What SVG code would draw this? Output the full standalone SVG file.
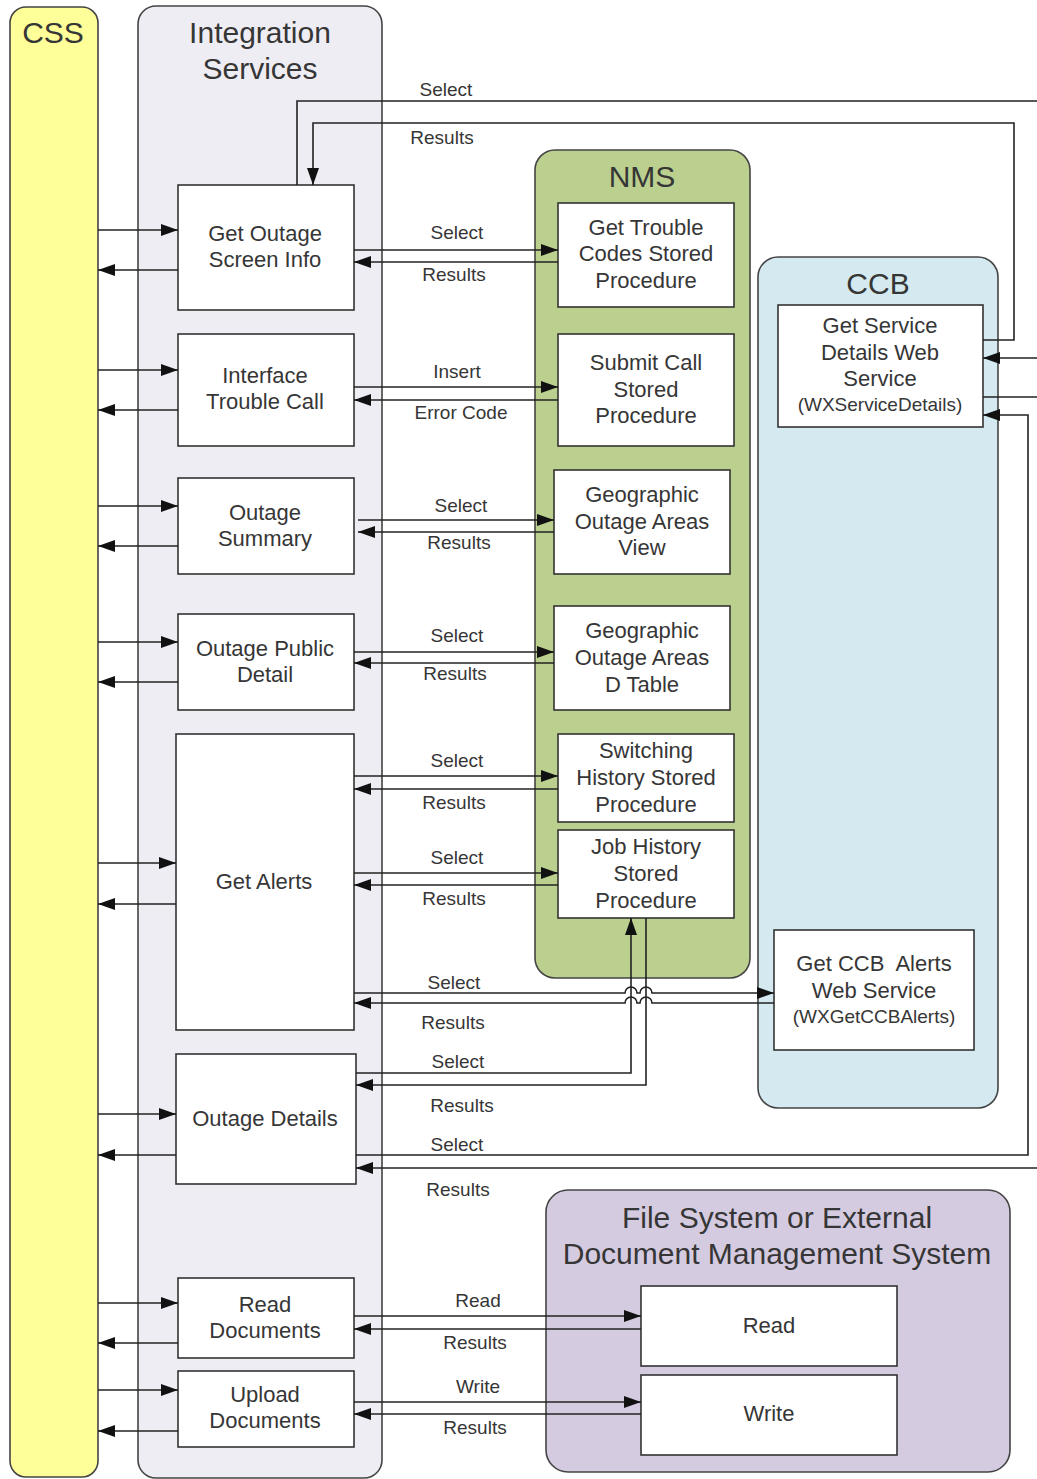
<svg xmlns="http://www.w3.org/2000/svg" width="1037" height="1479" viewBox="0 0 1037 1479">
  <style>
    text { font-family: "Liberation Sans", Arial, sans-serif; fill: #363636; text-anchor: middle; }
    .title { font-size: 30px; }
    .node { font-size: 22px; }
    .small { font-size: 19px; }
    .lbl { font-size: 19px; }
    .box { fill: #fff; stroke: #333; stroke-width: 1.6; }
    .wire { fill: none; stroke: #222; stroke-width: 1.6; }
    .arr { marker-end: url(#head); }
  </style>
  <defs>
    <marker id="head" viewBox="0 0 17 12" refX="17" refY="6" markerWidth="17" markerHeight="12" markerUnits="userSpaceOnUse" orient="auto">
      <path d="M0,0 L17,6 L0,12 z" fill="#111"/>
    </marker>
  </defs>

  <rect width="1037" height="1479" fill="#fff"/>

  <!-- swimlanes -->
  <g id="lane-css">
    <rect x="10" y="7" width="88" height="1470" rx="16" fill="#ffff99" stroke="#444" stroke-width="1.6"/>
    <text class="title" x="53" y="43">CSS</text>
  </g>
  <g id="lane-integration">
    <rect x="138" y="6" width="244" height="1472" rx="18" fill="#efedf4" stroke="#444" stroke-width="1.6"/>
    <text class="title" x="260" y="43">Integration</text>
    <text class="title" x="260" y="79">Services</text>
  </g>
  <g id="lane-nms">
    <rect x="535" y="150" width="215" height="828" rx="20" fill="#bbd08f" stroke="#444" stroke-width="1.6"/>
    <text class="title" x="642" y="187">NMS</text>
  </g>
  <g id="lane-ccb">
    <rect x="758" y="257" width="240" height="851" rx="20" fill="#d4eaf0" stroke="#444" stroke-width="1.6"/>
    <text class="title" x="878" y="294">CCB</text>
  </g>
  <g id="lane-docs">
    <rect x="546" y="1190" width="464" height="282" rx="22" fill="#d5cbe1" stroke="#444" stroke-width="1.6"/>
    <text class="title" x="777" y="1228">File System or External</text>
    <text class="title" x="777" y="1264">Document Management System</text>
  </g>

  <!-- integration services -->
  <g id="get-outage-screen-info">
    <rect class="box" x="178" y="185" width="176" height="125"/>
    <text class="node" x="265" y="241">Get Outage</text>
    <text class="node" x="265" y="267">Screen Info</text>
  </g>
  <g id="interface-trouble-call">
    <rect class="box" x="178" y="334" width="176" height="112"/>
    <text class="node" x="265" y="383">Interface</text>
    <text class="node" x="265" y="409">Trouble Call</text>
  </g>
  <g id="outage-summary">
    <rect class="box" x="178" y="478" width="176" height="96"/>
    <text class="node" x="265" y="520">Outage</text>
    <text class="node" x="265" y="546">Summary</text>
  </g>
  <g id="outage-public-detail">
    <rect class="box" x="178" y="614" width="176" height="96"/>
    <text class="node" x="265" y="656">Outage Public</text>
    <text class="node" x="265" y="682">Detail</text>
  </g>
  <g id="get-alerts">
    <rect class="box" x="176" y="734" width="178" height="296"/>
    <text class="node" x="264" y="889">Get Alerts</text>
  </g>
  <g id="outage-details">
    <rect class="box" x="176" y="1054" width="180" height="130"/>
    <text class="node" x="265" y="1126">Outage Details</text>
  </g>
  <g id="read-documents">
    <rect class="box" x="178" y="1278" width="176" height="80"/>
    <text class="node" x="265" y="1312">Read</text>
    <text class="node" x="265" y="1338">Documents</text>
  </g>
  <g id="upload-documents">
    <rect class="box" x="178" y="1371" width="176" height="76"/>
    <text class="node" x="265" y="1402">Upload</text>
    <text class="node" x="265" y="1428">Documents</text>
  </g>

  <!-- NMS -->
  <g id="get-trouble-codes">
    <rect class="box" x="558" y="203" width="176" height="104"/>
    <text class="node" x="646" y="235">Get Trouble</text>
    <text class="node" x="646" y="261">Codes Stored</text>
    <text class="node" x="646" y="288">Procedure</text>
  </g>
  <g id="submit-call">
    <rect class="box" x="558" y="334" width="176" height="112"/>
    <text class="node" x="646" y="370">Submit Call</text>
    <text class="node" x="646" y="397">Stored</text>
    <text class="node" x="646" y="423">Procedure</text>
  </g>
  <g id="geo-outage-view">
    <rect class="box" x="554" y="470" width="176" height="104"/>
    <text class="node" x="642" y="502">Geographic</text>
    <text class="node" x="642" y="529">Outage Areas</text>
    <text class="node" x="642" y="555">View</text>
  </g>
  <g id="geo-outage-table">
    <rect class="box" x="554" y="606" width="176" height="104"/>
    <text class="node" x="642" y="638">Geographic</text>
    <text class="node" x="642" y="665">Outage Areas</text>
    <text class="node" x="642" y="692">D Table</text>
  </g>
  <g id="switching-history">
    <rect class="box" x="558" y="734" width="176" height="88"/>
    <text class="node" x="646" y="758">Switching</text>
    <text class="node" x="646" y="785">History Stored</text>
    <text class="node" x="646" y="812">Procedure</text>
  </g>
  <g id="job-history">
    <rect class="box" x="558" y="830" width="176" height="88"/>
    <text class="node" x="646" y="854">Job History</text>
    <text class="node" x="646" y="881">Stored</text>
    <text class="node" x="646" y="908">Procedure</text>
  </g>

  <!-- CCB -->
  <g id="get-service-details">
    <rect class="box" x="778" y="305" width="205" height="122"/>
    <text class="node" x="880" y="333">Get Service</text>
    <text class="node" x="880" y="360">Details Web</text>
    <text class="node" x="880" y="386">Service</text>
    <text class="small" x="880" y="411">(WXServiceDetails)</text>
  </g>
  <g id="get-ccb-alerts">
    <rect class="box" x="774" y="930" width="200" height="120"/>
    <text class="node" x="874" y="971" style="white-space:pre">Get CCB  Alerts</text>
    <text class="node" x="874" y="998">Web Service</text>
    <text class="small" x="874" y="1023">(WXGetCCBAlerts)</text>
  </g>

  <!-- documents -->
  <g id="doc-read">
    <rect class="box" x="641" y="1286" width="256" height="80"/>
    <text class="node" x="769" y="1333">Read</text>
  </g>
  <g id="doc-write">
    <rect class="box" x="641" y="1375" width="256" height="80"/>
    <text class="node" x="769" y="1421">Write</text>
  </g>

  <!-- connectors -->
  <g id="connectors">
    <!-- CSS to/from integration services -->
    <path class="wire arr" d="M98,230 H178"/>
    <path class="wire arr" d="M178,270 H98"/>
    <path class="wire arr" d="M98,370 H178"/>
    <path class="wire arr" d="M178,410 H98"/>
    <path class="wire arr" d="M98,506 H178"/>
    <path class="wire arr" d="M178,546 H98"/>
    <path class="wire arr" d="M98,642 H178"/>
    <path class="wire arr" d="M178,682 H98"/>
    <path class="wire arr" d="M98,863 H176"/>
    <path class="wire arr" d="M176,904 H98"/>
    <path class="wire arr" d="M98,1114 H176"/>
    <path class="wire arr" d="M176,1155 H98"/>
    <path class="wire arr" d="M98,1303 H178"/>
    <path class="wire arr" d="M178,1343 H98"/>
    <path class="wire arr" d="M98,1390 H178"/>
    <path class="wire arr" d="M178,1431 H98"/>

    <!-- Get Outage Screen Info <-> Get Service Details -->
    <path class="wire" d="M297,185 V101 H1037"/>
    <path class="wire arr" d="M983,340 H1014 V123 H313 V185"/>
    <path class="wire arr" d="M1037,358 H983"/>
    <path class="wire" d="M983,397 H1037"/>
    <text class="lbl" x="446" y="96">Select</text>
    <text class="lbl" x="442" y="144">Results</text>

    <!-- to NMS -->
    <path class="wire arr" d="M354,250 H558"/>
    <path class="wire arr" d="M558,262 H354"/>
    <text class="lbl" x="457" y="239">Select</text>
    <text class="lbl" x="454" y="281">Results</text>

    <path class="wire arr" d="M354,387 H558"/>
    <path class="wire arr" d="M558,400 H354"/>
    <text class="lbl" x="457" y="378">Insert</text>
    <text class="lbl" x="461" y="419">Error Code</text>

    <path class="wire arr" d="M358,520 H554"/>
    <path class="wire arr" d="M554,532 H358"/>
    <text class="lbl" x="461" y="512">Select</text>
    <text class="lbl" x="459" y="549">Results</text>

    <path class="wire arr" d="M354,652 H554"/>
    <path class="wire arr" d="M554,663 H354"/>
    <text class="lbl" x="457" y="642">Select</text>
    <text class="lbl" x="455" y="680">Results</text>

    <path class="wire arr" d="M354,776 H558"/>
    <path class="wire arr" d="M558,789 H354"/>
    <text class="lbl" x="457" y="767">Select</text>
    <text class="lbl" x="454" y="809">Results</text>

    <path class="wire arr" d="M354,873 H558"/>
    <path class="wire arr" d="M558,885 H354"/>
    <text class="lbl" x="457" y="864">Select</text>
    <text class="lbl" x="454" y="905">Results</text>

    <!-- Get Alerts <-> Get CCB Alerts, hopping over the Job History wires -->
    <path class="wire arr" d="M354,993 H625 A6,6 0 0 1 637,993 H640 A6,6 0 0 1 652,993 H774"/>
    <path class="wire arr" d="M774,1003 H652 A6,6 0 0 0 640,1003 H637 A6,6 0 0 0 625,1003 H354"/>
    <text class="lbl" x="454" y="989">Select</text>
    <text class="lbl" x="453" y="1029">Results</text>

    <!-- Outage Details <-> Job History -->
    <path class="wire arr" d="M356,1073 H631 V918"/>
    <path class="wire arr" d="M646,918 V1085 H356"/>
    <text class="lbl" x="458" y="1068">Select</text>
    <text class="lbl" x="462" y="1112">Results</text>

    <!-- Outage Details <-> Get Service Details -->
    <path class="wire arr" d="M356,1155 H1028 V415 H983"/>
    <path class="wire arr" d="M1037,1168 H356"/>
    <text class="lbl" x="457" y="1151">Select</text>
    <text class="lbl" x="458" y="1196">Results</text>

    <!-- documents -->
    <path class="wire arr" d="M354,1316 H641"/>
    <path class="wire arr" d="M641,1329 H354"/>
    <text class="lbl" x="478" y="1307">Read</text>
    <text class="lbl" x="475" y="1349">Results</text>

    <path class="wire arr" d="M354,1402 H641"/>
    <path class="wire arr" d="M641,1414 H354"/>
    <text class="lbl" x="478" y="1393">Write</text>
    <text class="lbl" x="475" y="1434">Results</text>
  </g>
</svg>
